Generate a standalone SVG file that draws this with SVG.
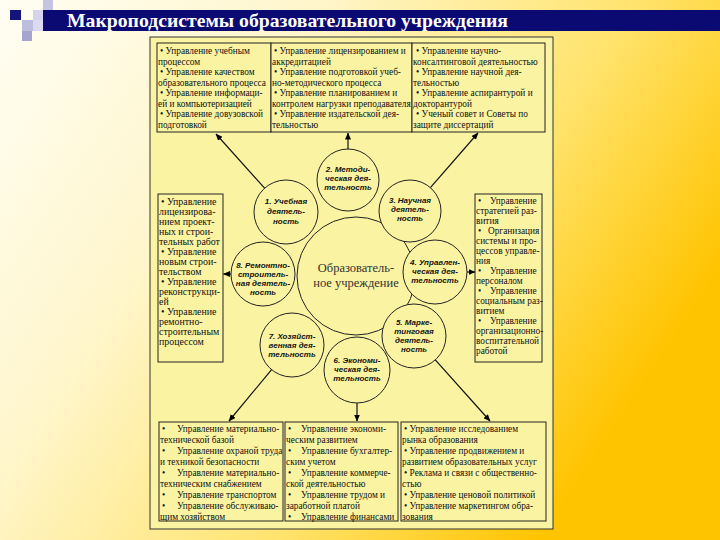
<svg xmlns="http://www.w3.org/2000/svg" width="720" height="540" viewBox="0 0 720 540">
<defs>
<linearGradient id="bg" x1="0" y1="0" x2="1" y2="0.5">
<stop offset="0" stop-color="#FFFEF4"/>
<stop offset="0.35" stop-color="#FFF6CC"/>
<stop offset="0.7" stop-color="#FFE470"/>
<stop offset="1" stop-color="#FFC400"/>
</linearGradient>
<marker id="ah" markerWidth="7" markerHeight="6" refX="6.5" refY="3" orient="auto" markerUnits="userSpaceOnUse">
<path d="M0,0 L7,3 L0,6 Z" fill="#000"/>
</marker>
<style>
.t{font-family:"Liberation Serif","Times New Roman",serif;font-size:9.3px;fill:#111}
.tl{font-size:9.9px}
.c{font-family:"Liberation Sans",Arial,sans-serif;font-size:8px;font-weight:bold;font-style:italic;fill:#111;text-anchor:middle}
.box{fill:#FAF4A2;stroke:#222;stroke-width:1}
.circ{fill:#FAF4A2;stroke:#222;stroke-width:1}
.con{stroke:#111;stroke-width:1.2;fill:none;marker-end:url(#ah)}
</style>
</defs>
<rect x="0" y="0" width="720" height="540" fill="url(#bg)"/>
<g id="decor">
<rect x="43" y="0" width="10" height="10" fill="#C4C4E2"/>
<rect x="10" y="10" width="11" height="10" fill="#14147A"/>
<rect x="33" y="10" width="10" height="10" fill="#D4D4F0"/>
<rect x="22" y="20" width="11" height="11" fill="#BDBDE0"/>
<rect x="33" y="20" width="10" height="11" fill="#DADAF2"/>
<rect x="22" y="31" width="10" height="10" fill="#A4A4CE"/>
</g>
<g id="title">
<rect x="43" y="10" width="677" height="21" fill="#0A0A72"/>
<text x="67" y="27" font-family="Liberation Serif, Times New Roman, serif" font-size="19" font-weight="bold" fill="#FFFFFF" textLength="441" lengthAdjust="spacingAndGlyphs">Макроподсистемы образовательного учреждения</text>
</g>
<rect x="150" y="37" width="403" height="492" fill="#FAF4A2" stroke="#333" stroke-width="1"/>

<g id="box-top1">
<rect class="box" x="157" y="43" width="114" height="89"/>
<text class="t"><tspan x="160" y="54">• Управление учебным</tspan><tspan x="158" y="64.6">процессом</tspan><tspan x="160" y="75.1">• Управление качеством</tspan><tspan x="158" y="85.7">образовательного процесса</tspan><tspan x="160" y="96.3">• Управление информаци-</tspan><tspan x="158" y="106.9">ей и компьютеризацией</tspan><tspan x="160" y="117.4">• Управление довузовской</tspan><tspan x="158" y="128">подготовкой</tspan></text>
</g>
<g id="box-top2">
<rect class="box" x="271" y="43" width="141" height="89"/>
<text class="t"><tspan x="274" y="54">• Управление лицензированием и</tspan><tspan x="272" y="64.6">аккредитацией</tspan><tspan x="274" y="75.1">• Управление подготовкой учеб-</tspan><tspan x="272" y="85.7">но-методического процесса</tspan><tspan x="274" y="96.3">• Управление планированием и</tspan><tspan x="272" y="106.9">контролем нагрузки преподавателя</tspan><tspan x="274" y="117.4">• Управление издательской дея-</tspan><tspan x="272" y="128">тельностью</tspan></text>
</g>
<g id="box-top3">
<rect class="box" x="412" y="43" width="133" height="89"/>
<text class="t"><tspan x="416" y="54">• Управление научно-</tspan><tspan x="413" y="64.6">консалтинговой деятельностью</tspan><tspan x="416" y="75.1">• Управление научной дея-</tspan><tspan x="413" y="85.7">тельностью</tspan><tspan x="416" y="96.3">• Управление аспирантурой и</tspan><tspan x="413" y="106.9">докторантурой</tspan><tspan x="416" y="117.4">• Ученый совет и Советы по</tspan><tspan x="413" y="128">защите диссертаций</tspan></text>
</g>
<g id="box-left">
<rect class="box" x="158" y="194" width="65" height="168"/>
<text class="t tl"><tspan x="161" y="204.5">• Управление</tspan><tspan x="159" y="214.5">лицензирова-</tspan><tspan x="159" y="224.5">нием проект-</tspan><tspan x="159" y="234.5">ных и строи-</tspan><tspan x="159" y="244.5">тельных работ</tspan><tspan x="161" y="254.5">• Управление</tspan><tspan x="159" y="264.5">новым строи-</tspan><tspan x="159" y="274.5">тельством</tspan><tspan x="161" y="284.5">• Управление</tspan><tspan x="159" y="294.5">реконструкци-</tspan><tspan x="159" y="304.5">ей</tspan><tspan x="161" y="314.5">• Управление</tspan><tspan x="159" y="324.5">ремонтно-</tspan><tspan x="159" y="334.5">строительным</tspan><tspan x="159" y="344.5">процессом</tspan></text>
</g>
<g id="box-right">
<rect class="box" x="475" y="194" width="67" height="168"/>
<text class="t"><tspan x="478" y="203.5">•</tspan><tspan x="490" y="203.5">Управление</tspan><tspan x="476" y="213.5">стратегией раз-</tspan><tspan x="476" y="223.5">вития</tspan><tspan x="478" y="233.5">•</tspan><tspan x="488" y="233.5">Организация</tspan><tspan x="476" y="243.5">системы и про-</tspan><tspan x="476" y="253.5">цессов управле-</tspan><tspan x="476" y="263.5">ния</tspan><tspan x="478" y="273.5">•</tspan><tspan x="490" y="273.5">Управление</tspan><tspan x="476" y="283.5">персоналом</tspan><tspan x="478" y="293.5">•</tspan><tspan x="490" y="293.5">Управление</tspan><tspan x="476" y="303.5">социальным раз-</tspan><tspan x="476" y="313.5">витием</tspan><tspan x="478" y="323.5">•</tspan><tspan x="490" y="323.5">Управление</tspan><tspan x="476" y="333.5">организационно-</tspan><tspan x="476" y="343.5">воспитательной</tspan><tspan x="476" y="353.5">работой</tspan></text>
</g>
<g id="box-bottom1">
<rect class="box" x="159" y="422" width="124" height="99"/>
<text class="t"><tspan x="162" y="431.5">•</tspan><tspan x="177" y="431.5">Управление материально-</tspan><tspan x="160" y="442.6">технической базой</tspan><tspan x="162" y="453.7">•</tspan><tspan x="177" y="453.7">Управление охраной труда</tspan><tspan x="160" y="464.8">и техникой безопасности</tspan><tspan x="162" y="475.9">•</tspan><tspan x="177" y="475.9">Управление материально-</tspan><tspan x="160" y="487">техническим снабжением</tspan><tspan x="162" y="498.1">•</tspan><tspan x="177" y="498.1">Управление транспортом</tspan><tspan x="162" y="509.2">•</tspan><tspan x="177" y="509.2">Управление обслуживаю-</tspan><tspan x="160" y="520.3">щим хозяйством</tspan></text>
</g>
<g id="box-bottom2">
<rect class="box" x="285" y="422" width="113" height="99"/>
<text class="t"><tspan x="288" y="431.5">•</tspan><tspan x="301" y="431.5">Управление экономи-</tspan><tspan x="286" y="442.6">ческим развитием</tspan><tspan x="288" y="453.7">•</tspan><tspan x="301" y="453.7">Управление бухгалтер-</tspan><tspan x="286" y="464.8">ским учетом</tspan><tspan x="288" y="475.9">•</tspan><tspan x="301" y="475.9">Управление коммерче-</tspan><tspan x="286" y="487">ской деятельностью</tspan><tspan x="288" y="498.1">•</tspan><tspan x="301" y="498.1">Управление трудом и</tspan><tspan x="286" y="509.2">заработной платой</tspan><tspan x="288" y="520.3">•</tspan><tspan x="301" y="520.3">Управление финансами</tspan></text>
</g>
<g id="box-bottom3">
<rect class="box" x="401" y="422" width="145" height="99"/>
<text class="t"><tspan x="404" y="431.5">• Управление исследованием</tspan><tspan x="402" y="442.6">рынка образования</tspan><tspan x="404" y="453.7">• Управление продвижением и</tspan><tspan x="402" y="464.8">развитием образовательных услуг</tspan><tspan x="404" y="475.9">• Реклама и связи с общественно-</tspan><tspan x="402" y="487">стью</tspan><tspan x="404" y="498.1">• Управление ценовой политикой</tspan><tspan x="404" y="509.2">• Управление маркетингом обра-</tspan><tspan x="402" y="520.3">зования</tspan></text>
</g>

<g id="connectors">
<line class="con" x1="264.6" y1="188.2" x2="216" y2="134"/>
<line class="con" x1="348" y1="149" x2="348" y2="133"/>
<line class="con" x1="430.4" y1="187.6" x2="478" y2="133"/>
<line class="con" x1="231" y1="274" x2="223.5" y2="274"/>
<line class="con" x1="467" y1="272" x2="475" y2="272"/>
<line class="con" x1="271.6" y1="369.6" x2="229" y2="421"/>
<line class="con" x1="357" y1="403" x2="357" y2="421"/>
<line class="con" x1="435.3" y1="359.8" x2="490" y2="421"/>
</g>

<g id="center">
<circle class="circ" cx="356" cy="276" r="59"/>
<text font-family="Liberation Serif, Times New Roman, serif" font-size="12.5" fill="#333" text-anchor="middle"><tspan x="356" y="272">Образователь-</tspan><tspan x="356" y="287">ное учреждение</tspan></text>
</g>
<g id="n1">
<circle class="circ" cx="286" cy="212" r="32"/>
<text class="c"><tspan x="286" y="204">1. Учебная</tspan><tspan x="286" y="214">деятель-</tspan><tspan x="286" y="224">ность</tspan></text>
</g>
<g id="n2">
<circle class="circ" cx="348" cy="180" r="31"/>
<text class="c"><tspan x="348" y="172">2. Методи-</tspan><tspan x="348" y="181">ческая дея-</tspan><tspan x="348" y="190">тельность</tspan></text>
</g>
<g id="n3">
<circle class="circ" cx="410" cy="211" r="31"/>
<text class="c"><tspan x="410" y="203">3. Научная</tspan><tspan x="410" y="212">деятель-</tspan><tspan x="410" y="221">ность</tspan></text>
</g>
<g id="n4">
<circle class="circ" cx="435" cy="272" r="32"/>
<text class="c"><tspan x="435" y="265">4. Управлен-</tspan><tspan x="435" y="274">ческая дея-</tspan><tspan x="435" y="283">тельность</tspan></text>
</g>
<g id="n5">
<circle class="circ" cx="414" cy="336" r="32"/>
<text class="c"><tspan x="414" y="325">5. Марке-</tspan><tspan x="414" y="334">тинговая</tspan><tspan x="414" y="343">деятель-</tspan><tspan x="414" y="352">ность</tspan></text>
</g>
<g id="n6">
<circle class="circ" cx="357" cy="370" r="33"/>
<text class="c"><tspan x="357" y="363">6. Экономи-</tspan><tspan x="357" y="372">ческая дея-</tspan><tspan x="357" y="381">тельность</tspan></text>
</g>
<g id="n7">
<circle class="circ" cx="292" cy="345" r="32"/>
<text class="c"><tspan x="292" y="339">7. Хозяйст-</tspan><tspan x="292" y="348">венная дея-</tspan><tspan x="292" y="357">тельность</tspan></text>
</g>
<g id="n8">
<circle class="circ" cx="263" cy="274" r="32"/>
<text class="c"><tspan x="263" y="268">8. Ремонтно-</tspan><tspan x="263" y="277">строитель-</tspan><tspan x="263" y="286">ная деятель-</tspan><tspan x="263" y="295">ность</tspan></text>
</g>
</svg>
